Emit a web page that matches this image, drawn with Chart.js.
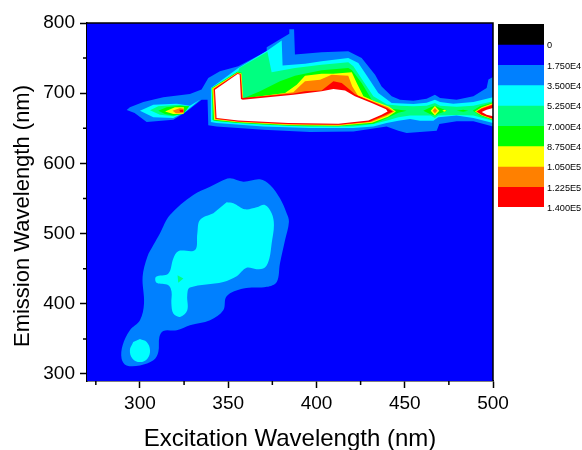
<!DOCTYPE html>
<html>
<head>
<meta charset="utf-8">
<title>Excitation emission contour</title>
<script src="https://cdn.jsdelivr.net/npm/chart.js@4"></script>
<style>
  html, body { margin: 0; padding: 0; background: #ffffff; }
  #wrap { position: relative; width: 582px; height: 450px; overflow: hidden; }
  #chartContour { position: absolute; left: 0; top: 0; }
  #chartScale { position: absolute; left: 498px; top: 14px; }
</style>
</head>
<body>
<div id="wrap">
  <canvas id="chartContour" width="582" height="450"></canvas>
  <canvas id="chartScale" width="84" height="203"></canvas>
</div>
<script>
const xTicks = [300, 350, 400, 450, 500];
const xMinorTicks = [275, 325, 375, 425, 475];
const yTicks = [300, 400, 500, 600, 700, 800];
const yMinorTicks = [350, 450, 550, 650, 750];
const xRange = [270, 500];
const yRange = [290, 800];
const yTitleText = 'Emission Wavelength (nm)';

const scaleLabels = ['0', '1.750E4', '3.500E4', '5.250E4', '7.000E4', '8.750E4', '1.050E5', '1.225E5', '1.400E5'];
const scaleColors = ['#000000', '#0000ff', '#0080ff', '#00ffff', '#00ff80', '#00ff00', '#ffff00', '#ff8000', '#ff0000'];

// contour outlines, [excitation, emission]
const floorLevel = [[270, 290], [500, 290], [500, 800], [270, 800]];

// 1.75E4 level
const blueBlob = [[345.3, 574], [351, 578.8], [358.6, 574], [368, 577.4], [373.7, 569.3], [379.3, 550.2], [383.1, 528.8], [384.4, 517], [382.2, 490.7], [379.3, 457.4], [377.5, 431.2], [371.8, 424.1], [358.6, 421.7], [349.1, 410.8], [347.2, 390.8], [339.7, 376.5], [328.3, 369.4], [320.8, 362.2], [313.2, 361.3], [311, 352.7], [310.4, 331.3], [307.6, 319.4], [300, 312.2], [292.4, 312.2], [289.6, 321.8], [290.2, 340.8], [294.3, 362.2], [300, 376.5], [302.3, 400.3], [301.5, 438.4], [304.2, 467], [307.6, 483.6], [311.3, 500.3], [317, 526.4], [330.2, 555], [339.7, 566.9]];
const blueBand = [[292.5, 676], [294.3, 679.9], [301.9, 687.5], [313.2, 694.1], [328.3, 698.9], [334.9, 705.1], [338.7, 721.7], [345.3, 731.3], [355.7, 738.4], [371.8, 759.8], [371.8, 765.5], [384.6, 784.6], [384.6, 791.2], [387.3, 791.2], [387.8, 755], [402.9, 758.3], [418, 759.7], [425.6, 750.2], [433.2, 726.4], [436.9, 709.7], [442.6, 695.5], [447.3, 690.8], [454.9, 689.4], [462.4, 692.2], [467.1, 697.9], [470, 693.2], [479.4, 690.8], [488.9, 695.6], [496.4, 707.5], [497.4, 719.4], [500, 723.2], [500, 652.7], [488.9, 659.9], [479.4, 659.9], [469.6, 656.1], [468.1, 646.5], [462.4, 645.6], [451.1, 643.2], [446.4, 646.5], [439.7, 652.7], [420.9, 645.6], [396.3, 644.6], [369.9, 647.9], [343.4, 652.7], [338.7, 654.2], [338.3, 690.8], [334.9, 690.8], [326.4, 674.1], [318.9, 662.2], [303.8, 658.9], [297, 671.8]];

// 3.5E4 level
const cyanBlob = [[349.1, 544.5], [352.9, 543.1], [359.5, 534.5], [366.1, 537.4], [370.8, 540.7], [374.6, 528.8], [375.9, 512.2], [374.6, 486], [373.3, 464.6], [370.8, 451.7], [366.1, 449.3], [360.4, 451.2], [354.8, 439.3], [347.2, 431.2], [328.3, 423.1], [326.8, 412.2], [326.8, 390.8], [322.7, 381.3], [318.9, 386], [317.8, 400.3], [317.9, 417], [316.1, 426.5], [309.4, 429.8], [309.1, 438.4], [316.1, 443.1], [318.9, 464.6], [321.7, 475], [331.2, 476.5], [332.5, 500.3], [334, 519.3], [341.6, 528.8]];
const cyanOval = [[300, 349.8], [303.8, 345.6], [305.7, 333.7], [304.2, 321.8], [300, 317], [295.8, 321.8], [294.3, 333.7], [296.2, 345.6]];
const cyanBand = [[340.2, 707.5], [355.7, 736], [372.2, 760.8], [380.3, 775], [380.8, 739.3], [393.5, 742.1], [402.9, 745.4], [418, 750.2], [423.7, 743.1], [429.4, 721.6], [435, 700.2], [442.6, 686], [454.9, 684.6], [462.4, 686.5], [467.1, 690.8], [470, 687.5], [477.5, 685], [488.9, 687.5], [500, 694.1], [500, 657.5], [488.9, 664.6], [479.4, 668.4], [469, 665.6], [466.2, 660.8], [458.6, 660.8], [453, 663.2], [446.4, 660.8], [439.7, 657.5], [432.2, 652.7], [420.9, 650.3], [396.3, 650.3], [369.9, 652.7], [343.4, 657.5], [340.2, 658.9]];
const cyanTip = [[300, 675.1], [307.6, 683.7], [320.8, 685], [328.3, 682.2], [334, 690.8], [325.5, 673.2], [318.9, 664.6], [307.6, 665.6]];

// 5.25E4 level
const seaDot = [[321.3, 440.8], [324.6, 436], [321.7, 429.8]];
const seaBand = [[341.2, 706.5], [355.7, 731.3], [356.3, 736], [372.2, 758.9], [374.6, 729.7], [387.8, 735.9], [402.9, 740.7], [418, 744], [420.9, 738.3], [426.5, 716.9], [432.2, 695.5], [440, 684], [447.3, 682.2], [454.9, 681.3], [462.4, 682.2], [467.1, 686], [470, 682.2], [479.4, 680.8], [488.9, 682.2], [500, 688.4], [500, 660.8], [488.9, 668.4], [479.4, 668.9], [469, 668.4], [467.1, 664.6], [464.7, 668.4], [453, 668.4], [446.4, 665.6], [439.7, 660.8], [432.2, 656.1], [420.9, 652.7], [396.3, 652.2], [369.9, 655.1], [343.4, 659.9], [340.8, 662.2]];
const seaTip = [[305.7, 675.6], [310.4, 681.3], [321.7, 683.7], [327.9, 681.3], [324.6, 671.8], [318.9, 667], [311.3, 669.4]];

// 7E4 level
const greenMain = [[340.6, 707.5], [355.2, 730.5], [357.6, 729], [357.6, 691.6], [368, 702.6], [379.3, 716.9], [387.8, 725], [402.9, 732.6], [418, 735.9], [420, 733], [425.6, 714.5], [431.3, 690.7], [442.6, 677.8], [451.1, 675.1], [446.4, 672.2], [439.4, 664], [432.2, 656.5], [412.4, 653], [384, 654], [355.7, 657.5], [341.6, 661]];
const greenPeak = [[460.5, 675.1], [464.7, 679.9], [467.1, 682.2], [470, 678.9], [474.1, 675.1], [470, 671.3], [467.1, 668.4], [464.3, 670.3]];
const greenDash = [[479.4, 675.1], [483.1, 676.5], [486, 675.1], [483.1, 673.6]];
const greenRight = [[488.5, 675.1], [492.6, 681.3], [500, 686.9], [500, 661.8], [492.6, 668.4]];
const greenTip = [[310.4, 675.1], [315.1, 679.9], [322.7, 682.2], [327.9, 681.3], [324.6, 670.3], [318.9, 668.4], [314.2, 670.3]];

// 8.75E4 level
const yellowMain = [[341, 707], [355.2, 729.5], [357.5, 728], [358.5, 692.5], [382.2, 700.2], [388.8, 712.1], [393.5, 725], [402.9, 727.8], [409.6, 727.8], [420, 729.7], [422.8, 714.5], [426.6, 695.5], [433, 688.5], [441, 681], [445, 674], [440.5, 666.5], [431.5, 657.8], [412.4, 653.8], [384, 654.8], [355.7, 658.5], [342, 662]];
const yellowPeak = [[464.7, 675.1], [467.1, 681.7], [469.6, 675.1], [467.1, 668.4]];
const yellowDash = [[471.3, 675.1], [472.4, 676.5], [473.7, 675.1], [472.4, 673.6]];
const yellowRight = [[489.8, 674.1], [493.6, 679.9], [500, 685.6], [500, 662.7], [493.6, 668.4]];
const yellowTip = [[314.2, 674.1], [319.8, 679.9], [324.9, 679.9], [324.6, 670.3], [318.9, 670.3]];

// 1.05E5 level
const orangeMain = [[341.5, 706.5], [355.2, 729], [357.3, 727.5], [358.2, 692.5], [386.9, 701.2], [390.7, 710.7], [393.5, 716.9], [402, 719.3], [408.6, 726.4], [418, 725], [420.3, 709.7], [423.7, 695.5], [432, 688], [440.5, 680], [444, 674], [439.5, 667.5], [431, 658.8], [412.4, 654.5], [384, 655.5], [355.7, 659.2], [342.5, 662.8]];
const orangePeak = [[465.8, 675.1], [467.1, 678.9], [468.5, 675.1], [467.1, 671.3]];
const orangeRight = [[490.4, 674.1], [493.6, 678.9], [500, 684.6], [500, 663.2], [493.6, 668.9]];
const orangeTip = [[318.5, 675.1], [322.7, 678.9], [324.9, 677.9], [324.6, 671.3], [320.4, 671.3]];

// 1.225E5 level
const redMain = [[341.9, 706], [355.2, 728.4], [357, 727], [358, 693], [386.9, 699.5], [393.5, 702.6], [402.9, 704], [409.6, 716.9], [414.3, 714.5], [418.4, 705.9], [421.8, 698.5], [431.3, 688], [439.8, 679], [443.2, 674], [438.8, 668.5], [430, 659.5], [412.4, 655], [384, 656], [355.7, 659.8], [342.9, 663.5]];
const redRight = [[490.8, 674.1], [493.6, 677.9], [500, 683.7], [500, 663.7], [493.6, 669.4]];
const redTip = [[322.3, 676.5], [324.6, 676.5], [324.6, 673.2], [322.7, 673.2]];

// above the top level the original leaves the cells empty
const whiteMain = [[342.5, 705], [355.3, 727.5], [356.5, 726.5], [357.2, 691.6], [358.2, 690.7], [386.9, 697.8], [402.9, 702.6], [409.6, 705.9], [416.2, 704], [421.8, 695.5], [431.3, 686], [439.4, 677], [440.3, 674], [436.9, 669.3], [429.4, 661.2], [412.4, 656.4], [384, 657.4], [355.7, 661.2], [343.4, 664.5]];
const whiteRight = [[493.6, 673.2], [496.4, 676.5], [500, 678.9], [500, 667], [496.4, 669.4]];

// painted bottom first
const contourLayers = [
    [floorLevel, '#0000ff', 0],
    [blueBlob, '#0080ff', 0.35],
    [blueBand, '#0080ff', 0],
    [cyanBlob, '#00ffff', 0.35],
    [cyanOval, '#00ffff', 0.4],
    [cyanBand, '#00ffff', 0],
    [cyanTip, '#00ffff', 0],
    [seaDot, '#00ff80', 0],
    [seaBand, '#00ff80', 0],
    [seaTip, '#00ff80', 0],
    [greenMain, '#00ff00', 0],
    [greenPeak, '#00ff00', 0],
    [greenDash, '#00ff00', 0],
    [greenRight, '#00ff00', 0],
    [greenTip, '#00ff00', 0],
    [yellowMain, '#ffff00', 0],
    [yellowPeak, '#ffff00', 0],
    [yellowDash, '#ffff00', 0],
    [yellowRight, '#ffff00', 0],
    [yellowTip, '#ffff00', 0],
    [orangeMain, '#ff8000', 0],
    [orangePeak, '#ff8000', 0],
    [orangeRight, '#ff8000', 0],
    [orangeTip, '#ff8000', 0],
    [redMain, '#ff0000', 0],
    [redRight, '#ff0000', 0],
    [redTip, '#ff0000', 0],
    [whiteMain, '#ffffff', 0],
    [whiteRight, '#ffffff', 0]
];

let axisFont = 'Liberation Sans, Arial, sans-serif';

let contourDatasets = contourLayers.map(function (layer, i) {
    return {
        data: layer[0].map(function (p) { return { x: p[0], y: p[1] }; }),
        backgroundColor: layer[1],
        borderWidth: 0,
        pointRadius: 0,
        showLine: true,
        fill: 'shape',
        tension: layer[2],
        order: contourLayers.length - i
    };
});

// Chart.js has no minor ticks or closed frame, and its y title can only sit at
// the centre of the axis, so those three are stroked here from the scales
let axisExtras = {
    id: 'axisExtras',
    afterDraw: function (chart) {
        let ctx = chart.ctx;
        let area = chart.chartArea;
        let x = chart.scales.x;
        let y = chart.scales.y;
        ctx.save();
        ctx.strokeStyle = '#000000';
        ctx.lineWidth = 1.5;
        ctx.beginPath();
        xMinorTicks.forEach(function (v) {
            let px = x.getPixelForValue(v);
            ctx.moveTo(px, area.bottom);
            ctx.lineTo(px, area.bottom + 4);
        });
        yMinorTicks.forEach(function (v) {
            let py = y.getPixelForValue(v);
            ctx.moveTo(area.left, py);
            ctx.lineTo(area.left - 4, py);
        });
        ctx.moveTo(area.left, area.top);
        ctx.lineTo(area.right, area.top);
        ctx.lineTo(area.right, area.bottom);
        ctx.stroke();

        ctx.translate(22.5, 216);
        ctx.rotate(-Math.PI / 2);
        ctx.fillStyle = '#000000';
        ctx.font = '22px ' + axisFont;
        ctx.textAlign = 'center';
        ctx.textBaseline = 'middle';
        ctx.fillText(yTitleText, 0, 0);
        ctx.restore();
    }
};

new Chart(document.getElementById('chartContour'), {
    type: 'scatter',
    data: { datasets: contourDatasets },
    plugins: [axisExtras],
    options: {
        responsive: false,
        animation: false,
        events: [],
        layout: { padding: { top: 23, right: 89, left: 0, bottom: 0 } },
        plugins: { legend: { display: false }, tooltip: { enabled: false } },
        scales: {
            x: {
                type: 'linear',
                min: xRange[0],
                max: xRange[1],
                afterFit: function (scale) { scale.height = 69; },
                afterBuildTicks: function (scale) {
                    scale.ticks = xTicks.map(function (v) { return { value: v }; });
                },
                grid: { drawOnChartArea: false, tickLength: 7, tickWidth: 1.5, tickColor: '#000000' },
                border: { color: '#000000', width: 1.5 },
                ticks: { color: '#000000', maxRotation: 0, padding: 4, font: { family: axisFont, size: 19 } },
                title: {
                    display: true,
                    text: 'Excitation Wavelength (nm)',
                    color: '#000000',
                    padding: { top: 0, bottom: -1 },
                    font: { family: axisFont, size: 24, lineHeight: 1 }
                }
            },
            y: {
                type: 'linear',
                min: yRange[0],
                max: yRange[1],
                afterFit: function (scale) { scale.width = 87; },
                afterBuildTicks: function (scale) {
                    scale.ticks = yTicks.map(function (v) { return { value: v }; });
                },
                grid: { drawOnChartArea: false, tickLength: 7, tickWidth: 1.5, tickColor: '#000000' },
                border: { color: '#000000', width: 1.5 },
                ticks: { color: '#000000', padding: 5, font: { family: axisFont, size: 19 } }
            }
        }
    }
});

// colour scale: equal bands stacked in one bar
new Chart(document.getElementById('chartScale'), {
    type: 'bar',
    data: {
        labels: [''],
        datasets: scaleColors.map(function (c) {
            return { data: [1], backgroundColor: c, borderWidth: 0, barPercentage: 1, categoryPercentage: 1 };
        })
    },
    options: {
        responsive: false,
        animation: false,
        events: [],
        layout: { padding: { top: 10, bottom: 10, left: 0, right: 0 } },
        plugins: { legend: { display: false }, tooltip: { enabled: false } },
        scales: {
            x: { stacked: true, display: false },
            y: {
                stacked: true,
                position: 'right',
                reverse: true,
                min: 0,
                max: scaleColors.length,
                afterFit: function (scale) { scale.width = 38; },
                grid: { display: false, drawTicks: false },
                border: { display: false },
                ticks: {
                    stepSize: 1,
                    color: '#000000',
                    padding: 3,
                    labelOffset: 1.5,
                    font: { family: axisFont, size: 9.2 },
                    callback: function (v) { return v === 0 ? '' : scaleLabels[v - 1]; }
                }
            }
        }
    }
});
</script>
</body>
</html>
